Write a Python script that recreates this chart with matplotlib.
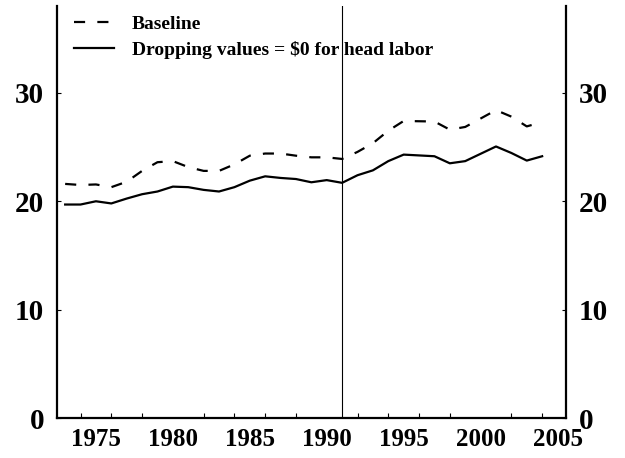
import numpy as np
import matplotlib
matplotlib.use("Agg")
import matplotlib.pyplot as plt

plt.rcParams["font.family"] = ["Liberation Serif", "DejaVu Serif"]
plt.rcParams["font.weight"] = "bold"

# values (1996 and 2000 not plotted)
years = [1973, 1974, 1975, 1976, 1977, 1978, 1979, 1980, 1981, 1982, 1983,
         1984, 1985, 1986, 1987, 1988, 1989, 1990, 1991, 1992, 1993, 1994,
         1995, 1997, 1998, 1999, 2001, 2002, 2003, 2004]
baseline = [21.6, 21.5, 21.55, 21.3, 21.8, 22.8, 23.6, 23.7, 23.15, 22.8, 22.8,
            23.4, 24.2, 24.4, 24.4, 24.2, 24.05, 24.05, 23.9, 24.55, 25.35, 26.5,
            27.4, 27.35, 26.6, 26.85, 28.4, 27.8, 26.9, 27.3]
dropping = [19.7, 19.7, 20.0, 19.8, 20.25, 20.65, 20.9, 21.35, 21.3, 21.05, 20.9,
            21.3, 21.9, 22.3, 22.15, 22.05, 21.75, 21.95, 21.7, 22.4, 22.85, 23.7,
            24.3, 24.15, 23.5, 23.7, 25.05, 24.45, 23.75, 24.15]
labels = ["Baseline", "Dropping values = $0 for head labor"]

fig = plt.figure(figsize=(6.25, 4.58), dpi=100)
ax = fig.add_axes([0.0907, 0.0867, 0.8149, 0.9003])

ax.plot(years, baseline, color="black", lw=1.6, dashes=(5, 5.5), label=labels[0])
ax.plot(years, dropping, color="black", lw=1.6, label=labels[1])
ax.axvline(1991, color="black", lw=0.8)

ax.set_xlim(1972.45, 2005.55)
ax.set_ylim(0, 38)

ax.spines["top"].set_visible(False)
for s in ["left", "right", "bottom"]:
    ax.spines[s].set_linewidth(1.6)

ax.set_xticks(np.arange(1975, 2006, 5))
ax.set_xticks(np.arange(1974, 2005, 2), minor=True)
ax.tick_params(axis="x", which="major", length=0, labelsize=18, pad=7)
ax.tick_params(axis="x", which="minor", direction="in", length=3.6, width=0.8)

ax.set_yticks([0, 10, 20, 30])
ax.tick_params(axis="y", direction="in", length=3, width=0.8, labelsize=21,
               pad=9, right=True, labelright=True)

ax.legend(loc="upper left", bbox_to_anchor=(0.118, 0.967),
          bbox_transform=fig.transFigure, frameon=False, fontsize=14,
          handlelength=2.05, handletextpad=0.95, labelspacing=0.4,
          borderpad=0, borderaxespad=0)

fig.savefig("out.png", dpi=100)
